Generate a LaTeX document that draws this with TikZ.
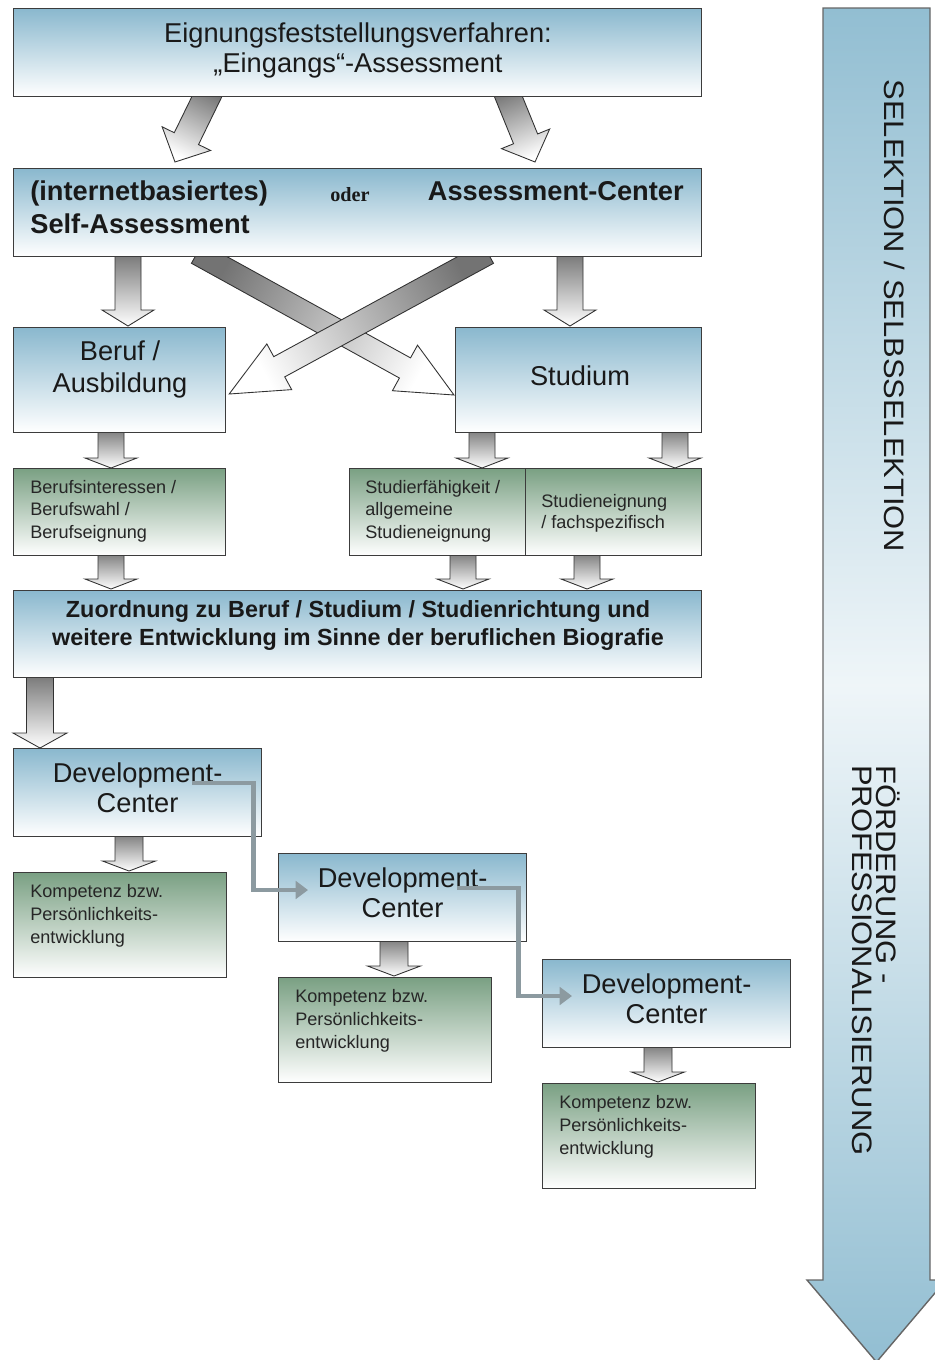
\documentclass[tikz,border=0pt]{standalone}
\usepackage{fontspec}
\setmainfont{Liberation Sans}
\newfontfamily\oderfont{Liberation Serif}
\usetikzlibrary{calc,arrows.meta}
\pgfdeclarelayer{back}
\pgfsetlayers{back,main}

\definecolor{boxblue}{RGB}{138,184,206}
\definecolor{boxgreen}{RGB}{122,160,131}
\definecolor{arrowblue}{RGB}{146,190,210}
\definecolor{boxline}{RGB}{60,60,60}
\definecolor{arrowline}{RGB}{50,50,50}
\definecolor{flowgray}{RGB}{140,154,160}

\tikzset{
  panel/.style={draw=boxline, line width=0.7pt, anchor=north west, inner sep=0pt},
  bluepanel/.style={panel, top color=boxblue, bottom color=white},
  greenpanel/.style={panel, top color=boxgreen, bottom color=white},
  bigtxt/.style={font=\fontsize{15.5}{18}\selectfont, inner sep=0pt, anchor=base, text=black!90},
  boldtxt/.style={font=\bfseries\fontsize{15.5}{18}\selectfont, inner sep=0pt, text=black!90},
  zutxt/.style={font=\bfseries\fontsize{13.3}{16}\selectfont, inner sep=0pt, anchor=base, text=black!90},
  odertxt/.style={font=\oderfont\bfseries\fontsize{11.5}{13}\selectfont, inner sep=0pt, anchor=base west, text=black!90},
  smalltxt/.style={font=\fontsize{10.3}{12}\selectfont, inner sep=0pt, anchor=base west, text=black!85},
  sidetxt/.style={font=\fontsize{16}{18}\selectfont, inner sep=0pt, rotate=-90, text=black!90},
  blockarrow/.style={draw=arrowline, line width=0.5pt, line join=miter, top color=black!55, bottom color=white},
  bigarrow/.style={draw=black!60, line width=0.8pt, top color=arrowblue, bottom color=arrowblue, middle color=arrowblue!15},
  flow/.style={draw=flowgray, line width=2.8pt, -{Triangle[length=7pt,width=10pt]}},
}

% hollow block arrow from #1 to the tip #2:
% shaft half width #3, head half width #4, head length #5 (all in px), shading angle #6
\newcommand\blockarrow[6]{%
  \coordinate (bah) at ($(#2)!#5*0.02cm!(#1)$);
  \path[blockarrow, shading angle=#6]
    ($(#1)!#3*0.02cm!90:(#2)$) -- ($(bah)!#3*0.02cm!90:(#2)$) --
    ($(bah)!#4*0.02cm!90:(#2)$) -- (#2) --
    ($(bah)!#4*0.02cm!-90:(#2)$) -- ($(bah)!#3*0.02cm!-90:(#2)$) --
    ($(#1)!#3*0.02cm!-90:(#2)$) -- cycle;
}

\begin{document}
\begin{tikzpicture}[x=0.02cm, y=-0.02cm]
\useasboundingbox (0,0) rectangle (935,1360);
\clip (0,0) rectangle (935,1360);

% ---------- boxes ----------
\node[bluepanel, minimum width=13.76cm, minimum height=1.76cm] (top) at (13,8) {};
\node[bluepanel, minimum width=13.76cm, minimum height=1.76cm] (sec) at (13,168) {};
\node[bluepanel, minimum width=4.24cm, minimum height=2.1cm] (beruf) at (13,327) {};
\node[bluepanel, minimum width=4.92cm, minimum height=2.1cm] (stud) at (455,327) {};
\node[greenpanel, minimum width=4.24cm, minimum height=1.74cm] (g1) at (13,468) {};
\node[greenpanel, minimum width=3.52cm, minimum height=1.74cm] (g2) at (349,468) {};
\node[greenpanel, minimum width=3.52cm, minimum height=1.74cm] (g3) at (525,468) {};
\node[bluepanel, minimum width=13.76cm, minimum height=1.74cm] (zu) at (13,590) {};
\node[bluepanel, minimum width=4.96cm, minimum height=1.76cm] (dc1) at (13,748) {};
\node[greenpanel, minimum width=4.26cm, minimum height=2.1cm] (k1) at (13,872) {};
\node[bluepanel, minimum width=4.96cm, minimum height=1.76cm] (dc2) at (278,853) {};
\node[greenpanel, minimum width=4.26cm, minimum height=2.1cm] (k2) at (278,977) {};
\node[bluepanel, minimum width=4.96cm, minimum height=1.76cm] (dc3) at (542,959) {};
\node[greenpanel, minimum width=4.26cm, minimum height=2.1cm] (k3) at (542,1083) {};

% ---------- texts ----------
\node[bigtxt] (topa) at (358,42) {Eignungsfeststellungsverfahren:};
\node[bigtxt] (topb) at (358,72) {„Eingangs“-Assessment};

\node[boldtxt, anchor=base west] (seca) at (30,200) {(internetbasiertes)};
\node[boldtxt, anchor=base west] (secb) at (30,233) {Self-Assessment};
\node[odertxt] (secc) at (330,201) {oder};
\node[boldtxt, anchor=base east] (secd) at (684,200) {Assessment-Center};

\node[bigtxt] (berufa) at (120,360) {Beruf /};
\node[bigtxt] (berufb) at (120,392) {Ausbildung};
\node[bigtxt] (studa) at (580,385) {Studium};

\node[smalltxt] (g1a) at (30,493) {Berufsinteressen /};
\node[smalltxt] (g1b) at (30,515) {Berufswahl /};
\node[smalltxt] (g1c) at (30,538) {Berufseignung};
\node[smalltxt] (g2a) at (365,493) {Studierfähigkeit /};
\node[smalltxt] (g2b) at (365,515) {allgemeine};
\node[smalltxt] (g2c) at (365,538) {Studieneignung};
\node[smalltxt] (g3a) at (541,507) {Studieneignung};
\node[smalltxt] (g3b) at (541,528) {/ fachspezifisch};

\node[zutxt] (zua) at (358,617) {Zuordnung zu Beruf / Studium / Studienrichtung und};
\node[zutxt] (zub) at (358,645) {weitere Entwicklung im Sinne der beruflichen Biografie};

\foreach \d in {1,2,3}{
  \node[bigtxt] (dc\d a) at ($(dc\d.north)+(0,34)$) {Development-};
  \node[bigtxt] (dc\d b) at ($(dc\d.north)+(0,64)$) {Center};
  \node[smalltxt] (k\d a) at ($(k\d.north west)+(17,25)$) {Kompetenz bzw.};
  \node[smalltxt] (k\d b) at ($(k\d.north west)+(17,48)$) {Persönlichkeits-};
  \node[smalltxt] (k\d c) at ($(k\d.north west)+(17,71)$) {entwicklung};
}

% ---------- block arrows (behind the boxes) ----------
\begin{pgfonlayer}{back}
  \blockarrow{$(top.south west)+(198,-9)$}{$(sec.north west)+(162,-6)$}{13.5}{27}{26}{-25.9}
  \blockarrow{$(top.south west)+(492,-9)$}{$(sec.north west)+(522,-6)$}{13}{26}{25}{21.5}
  \blockarrow{$(sec.south west)+(115,-6)$}{$(beruf.north west)+(115,-1)$}{13}{26}{16}{0}
  \blockarrow{$(sec.south west)+(557,-6)$}{$(stud.north west)+(115,-1)$}{13}{26}{16}{0}
  \blockarrow{$(sec.south west)+(184,-4)$}{$(stud.north west)+(-1,68)$}{11.5}{26}{56}{61.1}
  \blockarrow{$(sec.south west)+(475,-4)$}{$(beruf.north east)+(3,67)$}{11.5}{26}{57}{-61.6}
  \blockarrow{$(beruf.south west)+(98,-6)$}{$(g1.north west)+(98,0)$}{13}{26}{10}{0}
  \blockarrow{$(stud.south west)+(27,-6)$}{$(g2.north west)+(133,0)$}{13}{26}{10}{0}
  \blockarrow{$(stud.south west)+(220,-6)$}{$(g3.north west)+(150,0)$}{13}{26}{10}{0}
  \blockarrow{$(g1.south west)+(98,-6)$}{$(zu.north west)+(98,-1)$}{13}{26}{10}{0}
  \blockarrow{$(g2.south west)+(114,-6)$}{$(zu.north west)+(450,-1)$}{13}{26}{10}{0}
  \blockarrow{$(g3.south west)+(62,-6)$}{$(zu.north west)+(574,-1)$}{13}{26}{10}{0}
  \blockarrow{$(zu.south west)+(27,-6)$}{$(dc1.north west)+(27,0)$}{13.5}{27}{15}{0}
  \blockarrow{$(dc1.south west)+(116,-6)$}{$(k1.north west)+(116,-1)$}{14}{26.5}{10}{0}
  \blockarrow{$(dc2.south west)+(116,-6)$}{$(k2.north west)+(116,-1)$}{14}{26.5}{10}{0}
  \blockarrow{$(dc3.south west)+(116,-6)$}{$(k3.north west)+(116,-1)$}{14}{26.5}{10}{0}
\end{pgfonlayer}

% ---------- links between the development centres ----------
\coordinate (f1s) at ($(dc1.north west)+(179,35)$);
\coordinate (f1e) at ($(dc2.north west)+(30,37)$);
\draw[flow] (f1s) -| ($(dc1.north east |- f1e)+(-9,0)$) -- (f1e);
\coordinate (f2s) at ($(dc2.north west)+(179,35)$);
\coordinate (f2e) at ($(dc3.north west)+(30,37)$);
\draw[flow] (f2s) -| ($(dc2.north east |- f2e)+(-9,0)$) -- (f2e);

% ---------- side arrow ----------
\path[bigarrow] (823,8) -- (930,8) -- (930,1280) -- (946,1280) -- (876.5,1362)
  -- (807,1280) -- (823,1280) -- cycle;
\node[sidetxt] (sel) at (895,316) {\scalebox{1.1}[1]{SELEKTION / SELBSSELEKTION}};
\node[sidetxt, anchor=base west] (foe) at (876,765) {\scalebox{1.1}[1]{FÖRDERUNG -}};
\node[sidetxt, anchor=base west] (pro) at (852,765) {\scalebox{1.1}[1]{PROFESSIONALISIERUNG}};
\end{tikzpicture}
\end{document}
